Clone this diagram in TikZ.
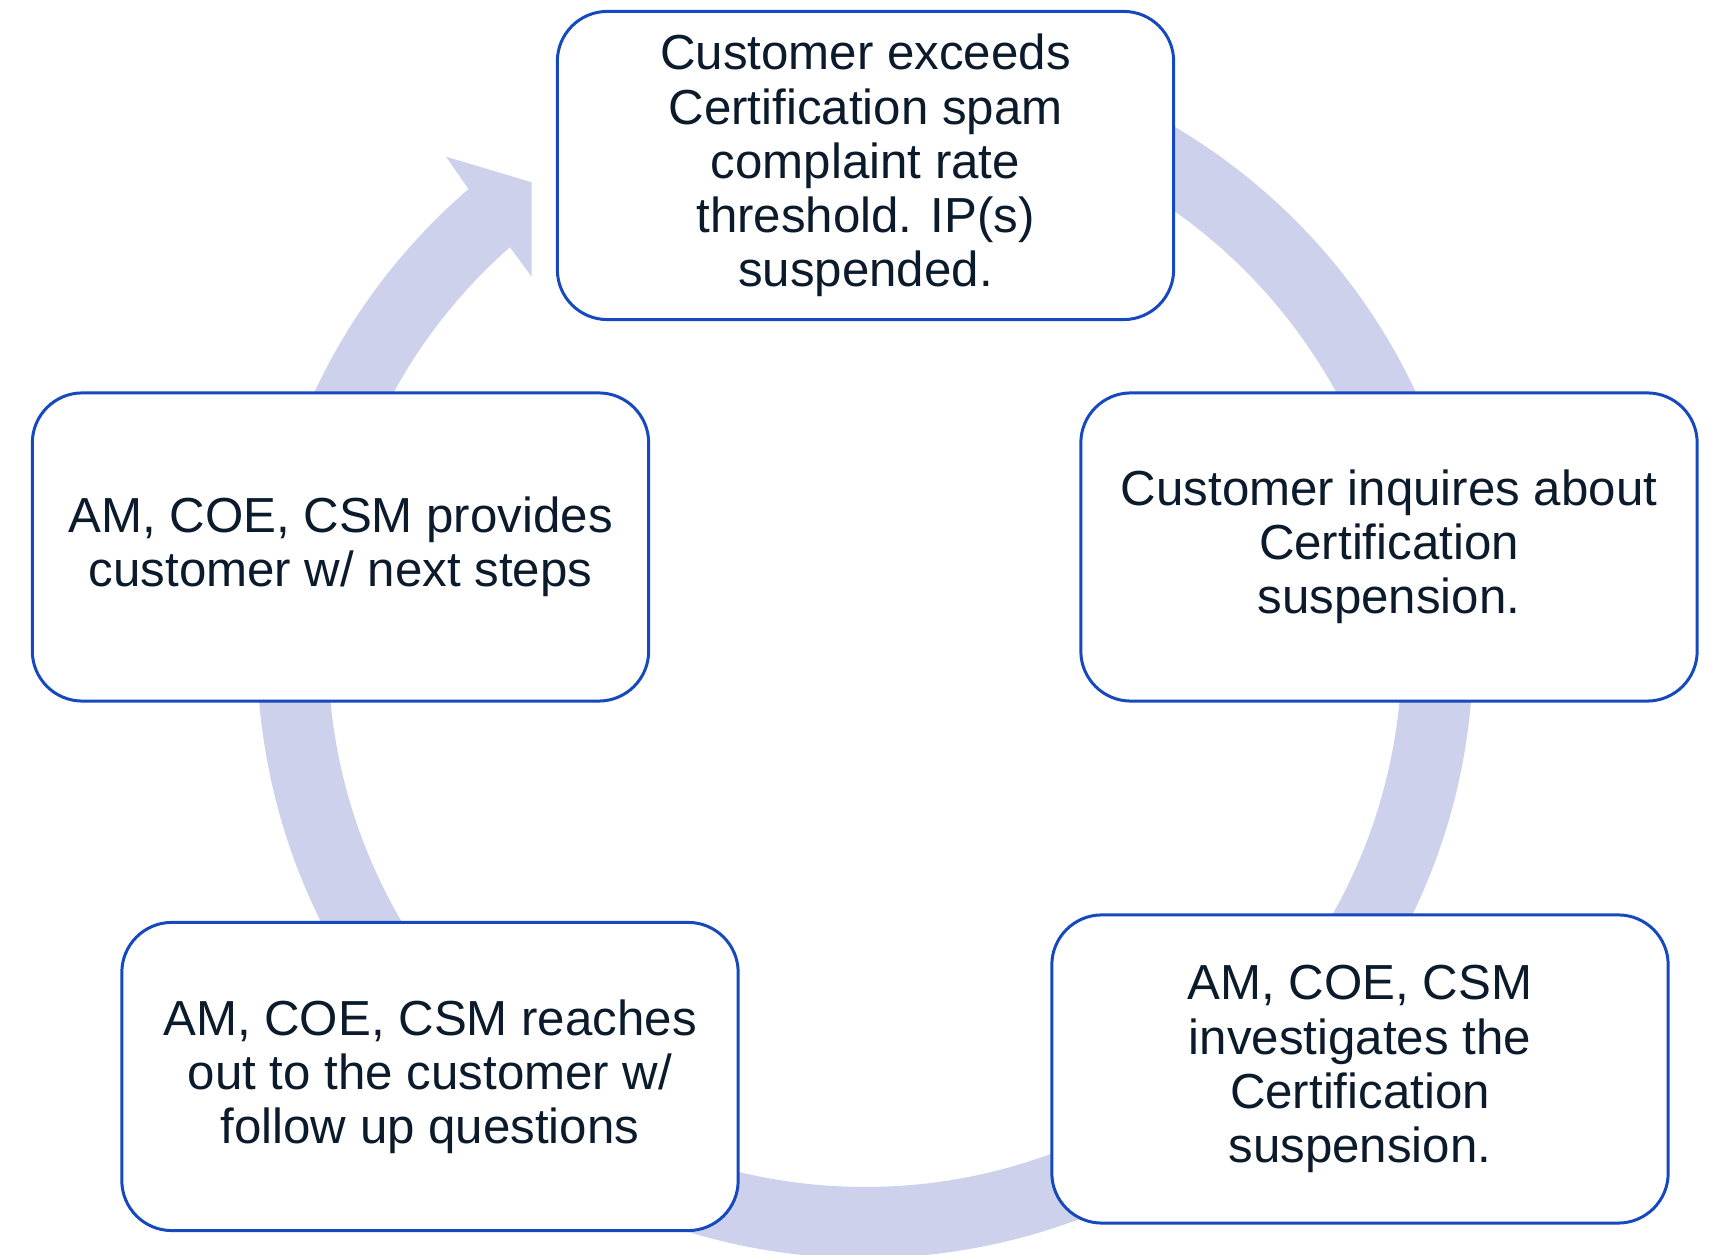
\documentclass[tikz,border=0pt]{standalone}
\usepackage{fontspec}
\setmainfont{Liberation Sans}
\definecolor{ringcol}{HTML}{CDD1EC}
\definecolor{edgecol}{HTML}{1648BE}
\definecolor{inkcol}{HTML}{0C1B2B}
\begin{document}
\begin{tikzpicture}[x=0.01cm,y=0.01cm,
  stepbox/.style={draw=edgecol, line width=0.85pt, fill=white,
    rounded corners=0.5cm, minimum width=6.16cm, minimum height=3.08cm,
    align=center, text=inkcol, inner sep=0pt,
    font=\fontsize{14pt}{15.4pt}\selectfont},
  cycleband/.style={fill=ringcol}]
\useasboundingbox (0,0) rectangle (1718,1254);
\clip (0,0) rectangle (1718,1254);

% circular band with its arrowhead, running clockwise
\coordinate (hub) at (865,604);
\fill[cycleband, shift={(hub)}]
  (100:608) arc[start angle=100, end angle=-229.3, radius=608]
  -- (-419,493.3) -- (-333.3,467.7) -- (-333.3,373.3)
  -- (-228.6:537) arc[start angle=-228.6, end angle=100, radius=537]
  -- cycle;

% the five steps of the cycle
\node[stepbox] (s1) at (865.5,1088.5)
  {Customer exceeds\\Certification spam\\complaint rate\\threshold. IP(s)\\suspended.};
\node[stepbox] (s2) at (1389,707)
  {Customer inquires about\\Certification\\suspension.};
\node[stepbox] (s3) at (1360,185)
  {AM, COE, CSM\\investigates the\\Certification\\suspension.};
\node[stepbox] (s4) at (430,177.5)
  {AM, COE, CSM reaches\\out to the customer w/\\follow up questions};
\node[stepbox] (s5) at (340.5,707)
  {AM, COE, CSM provides\\customer w/ next steps};
\end{tikzpicture}
\end{document}
